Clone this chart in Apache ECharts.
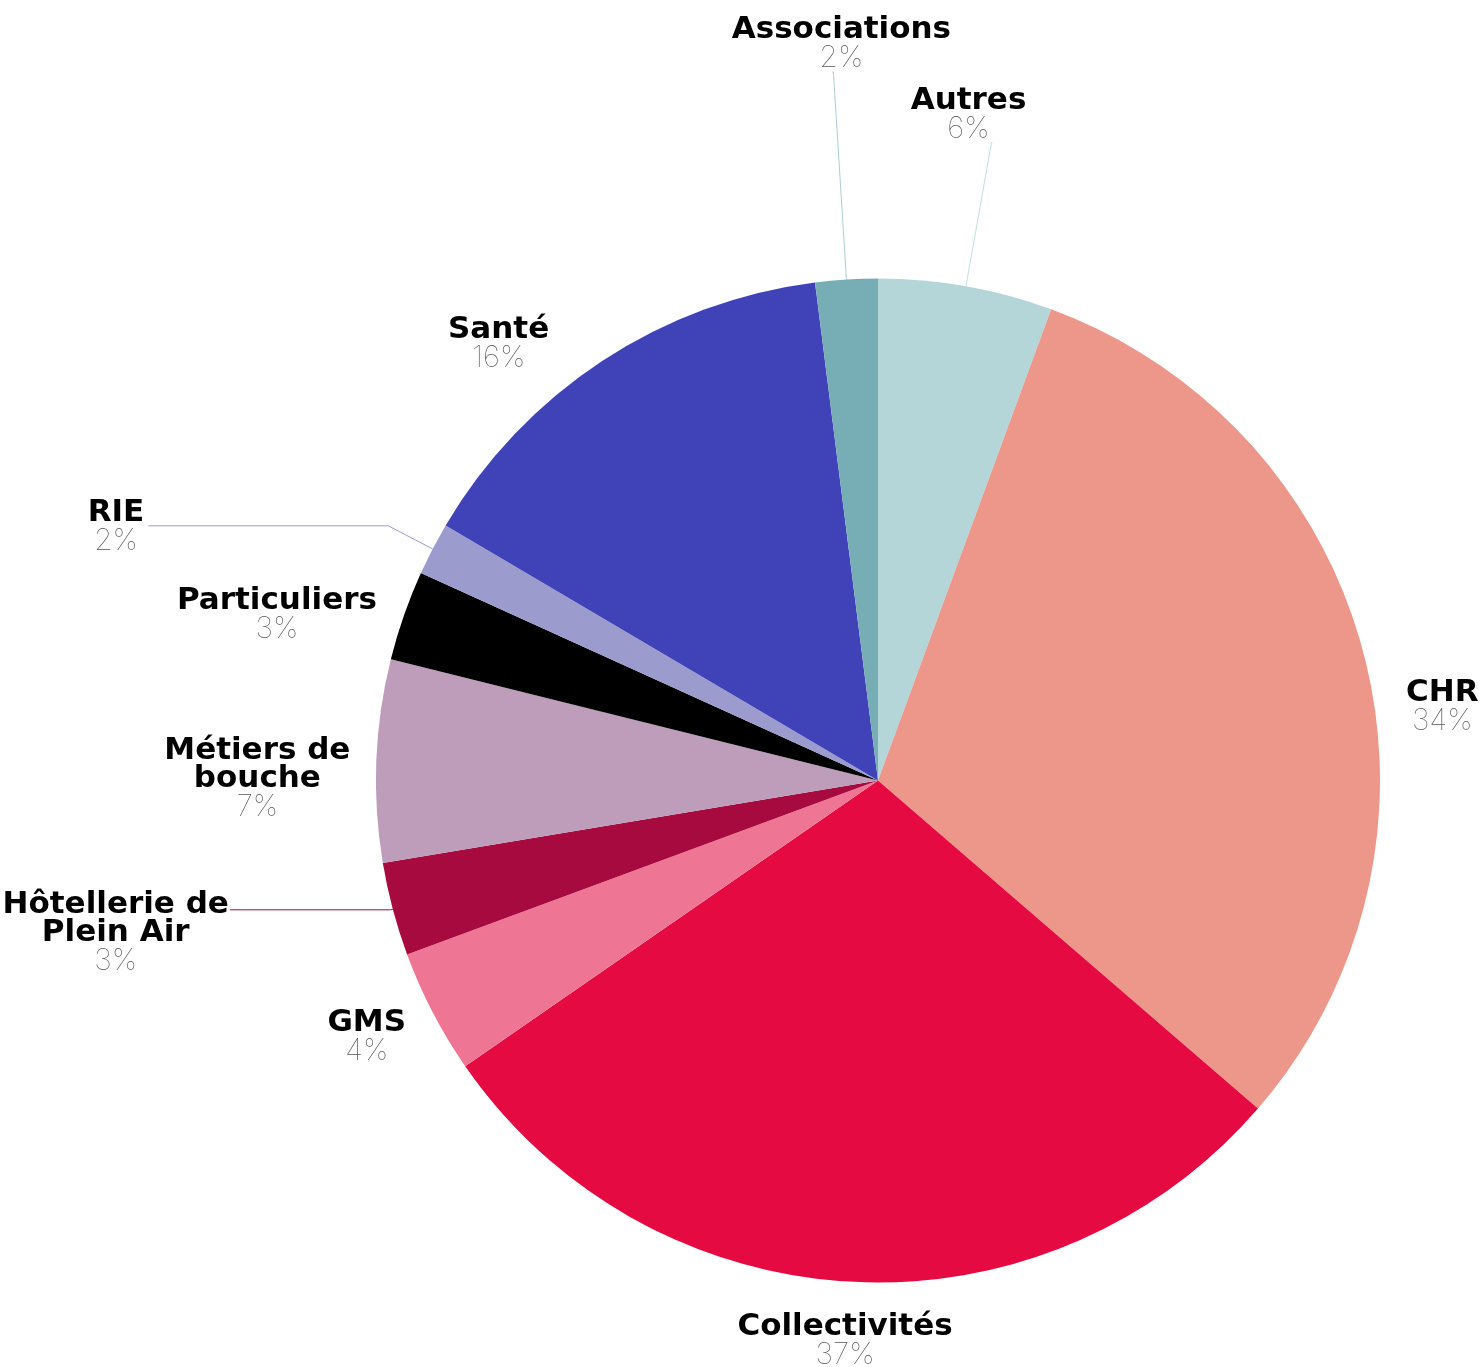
<!DOCTYPE html>
<html>
<head>
<meta charset="utf-8">
<script src="https://cdn.jsdelivr.net/npm/echarts@6/dist/echarts.min.js"></script>
<style>
  html, body { margin: 0; background: #fff; }
  #chart { width: 1481px; height: 1367px; }
</style>
</head>
<body>
<div id="chart"></div>
<script>
// slices, clockwise from 12 o'clock
const categories = ["Autres", "CHR", "Collectivités", "GMS", "Hôtellerie de\nPlein Air",
  "Métiers de\nbouche", "Particuliers", "RIE", "Santé", "Associations"];
// share of the circle
const shares = [5.6, 30.7, 29.0, 4.0, 3.0, 6.5, 2.9, 1.7, 14.5, 2.0];
// percentages as printed on the chart
const percentLabels = ["6%", "34%", "37%", "4%", "3%", "7%", "3%", "2%", "16%", "2%"];

const COLORS = ["#b4d6d9", "#ed978a", "#e50a42", "#ee7694", "#a60a3e",
  "#bd9db9", "#000000", "#9b9ccd", "#4043b8", "#77aeb5"];

// leader line lengths and where the label sits relative to the line end
const LABEL_PLACEMENT = [
  { len: 146, len2: 1, align: "center", va: "bottom", dx: -24, dy: 0, line: 0.8 },
  { len: 1, len2: 41, align: "left", va: "middle", dx: 0, dy: 52, line: 0 },
  { len: 59, len2: 3, align: "center", va: "middle", dx: 0, dy: 0, line: 0 },
  { len: 54, len2: 18, align: "center", va: "middle", dx: 0, dy: 0, line: 0 },
  { len: 2, len2: 161, align: "right", va: "middle", dx: -1, dy: 23, line: 1 },
  { len: 1, len2: 25, align: "right", va: "middle", dx: 0, dy: 18, line: 0 },
  { len: 1, len2: 26, align: "right", va: "middle", dx: 0, dy: 0, line: 0 },
  { len: 50, len2: 240, align: "right", va: "middle", dx: -4, dy: 1, line: 1 },
  { len: 21, len2: 92, align: "center", va: "middle", dx: 0, dy: 0, line: 0 },
  { len: 208, len2: 1, align: "center", va: "bottom", dx: 9, dy: 0, line: 0.6 },
];

const chart = echarts.init(document.getElementById("chart"), null, { renderer: "canvas" });

const data = categories.map((name, i) => {
  const p = LABEL_PLACEMENT[i];
  return {
    name,
    value: shares[i],
    itemStyle: { color: COLORS[i] },
    labelLine: {
      show: true,
      length: p.len,
      length2: p.len2,
      lineStyle: { color: COLORS[i], width: 1, opacity: p.line },
    },
  };
});

chart.setOption({
  animation: false,
  series: [
    {
      type: "pie",
      center: [878, 780.5],
      radius: 502,
      startAngle: 90,
      clockwise: true,
      avoidLabelOverlap: false,
      emphasis: { disabled: true },
      itemStyle: { borderWidth: 0 },
      label: {
        show: true,
        position: "outside",
        formatter: (p) => {
          const lines = p.name.split("\n").map((s) => `{n|${s}}`);
          return lines.join("\n") + `\n{p|${percentLabels[p.dataIndex]}}`;
        },
        rich: {
          n: {
            fontFamily: "DejaVu Sans",
            fontWeight: "bold",
            fontSize: 31,
            lineHeight: 28,
            color: "#000",
            align: "center",
          },
          p: {
            fontFamily: "Inter",
            fontWeight: 100,
            fontSize: 30,
            lineHeight: 28,
            color: "#555",
            align: "center",
          },
        },
      },
      labelLayout: (params) => {
        const p = LABEL_PLACEMENT[params.dataIndex];
        const pts = params.labelLinePoints;
        if (!pts) return {};
        const end = pts[pts.length - 1];
        return {
          x: end[0] + p.dx,
          y: end[1] + p.dy,
          align: p.align,
          verticalAlign: p.va,
          labelLinePoints: pts,
        };
      },
      data,
    },
  ],
});
</script>
</body>
</html>
